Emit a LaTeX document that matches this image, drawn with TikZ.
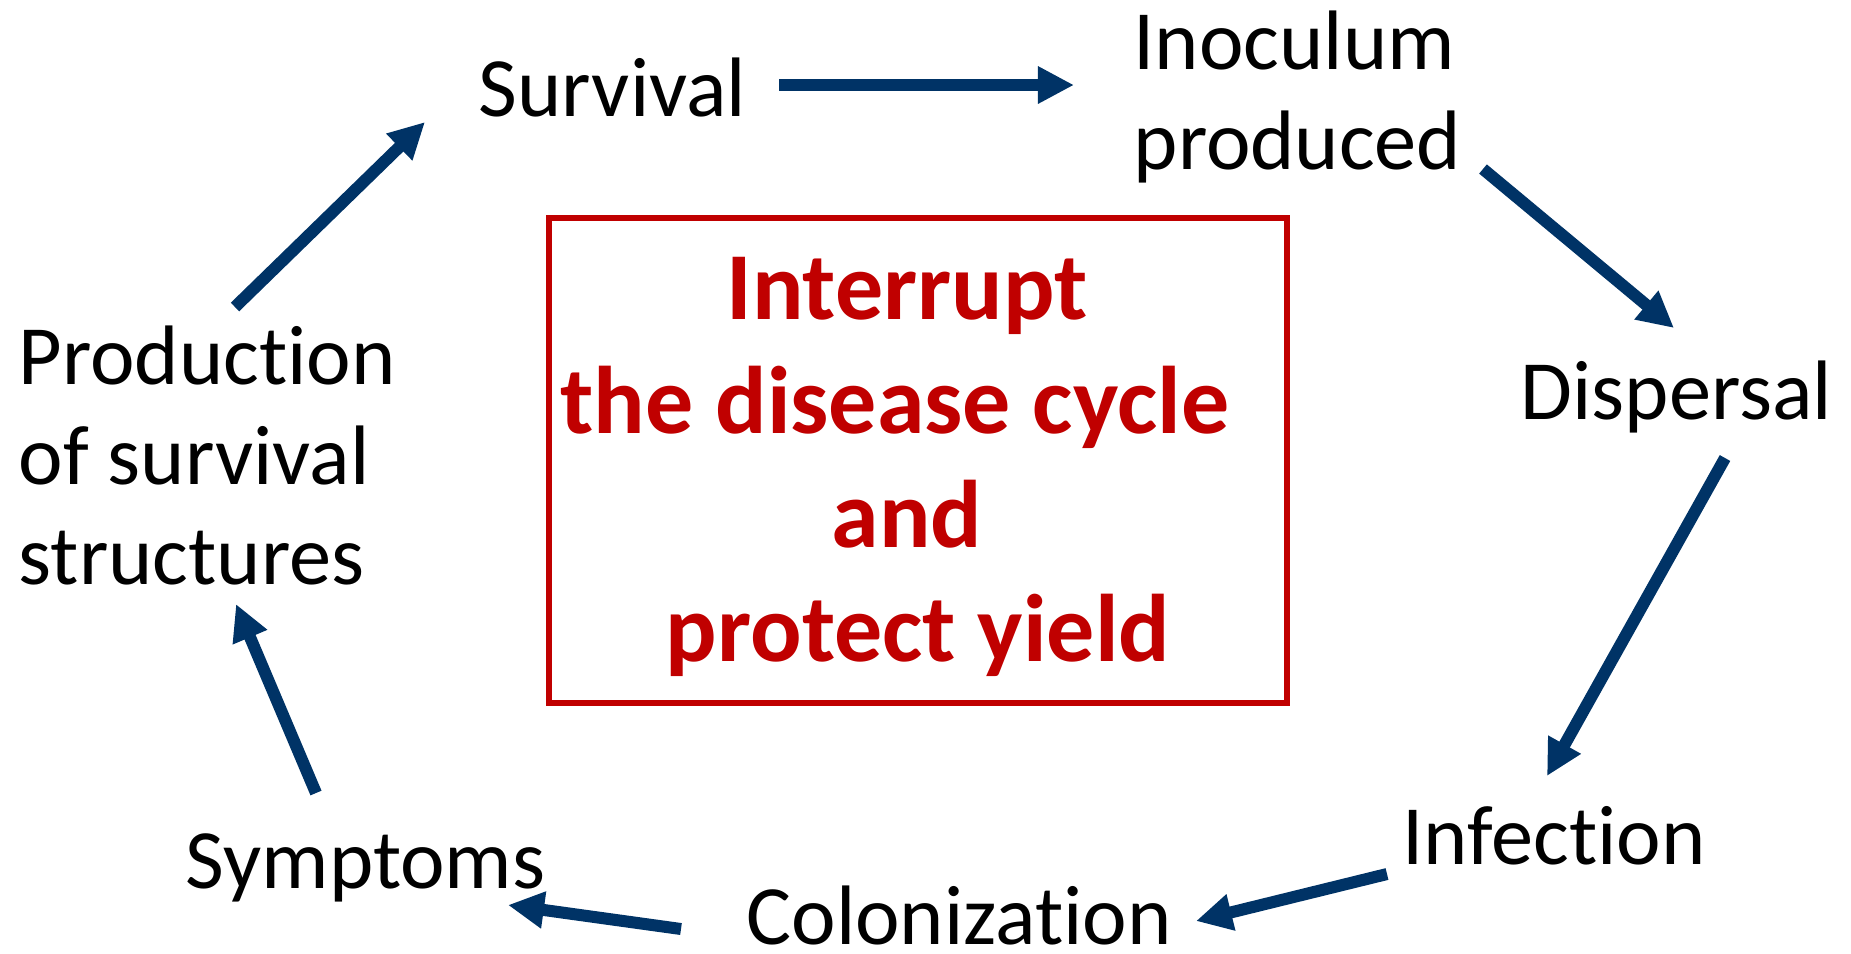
\documentclass[tikz,border=0pt]{standalone}
\usepackage{fontspec}
\setmainfont[Ligatures=NoCommon,RawFeature={-liga}]{Carlito}
\usetikzlibrary{arrows.meta}
\definecolor{cyclenavy}{RGB}{0,51,102}
\definecolor{cyclered}{RGB}{192,0,0}

\begin{document}
\begin{tikzpicture}[x=0.01cm,y=-0.01cm,
	stage/.style={anchor=base west,inner sep=0pt,align=left,
		font=\fontsize{24}{28.4}\selectfont},
	flow/.style={draw=cyclenavy,line width=0.12cm,
		-{Triangle[length=0.36cm,width=0.35cm]}}]
	\useasboundingbox (0,0) rectangle (1851,953);

	% multi-line nodes sit on their last line
	\node[stage] (surv)  at (478,116)  {Survival};
	\node[stage] (inoc)  at (1133,169) {Inoculum\\produced};
	\node[stage] (disp)  at (1520,419) {Dispersal};
	\node[stage] (infec) at (1402,864) {Infection};
	\node[stage] (colon) at (746,944)  {Colonization};
	\node[stage] (symp)  at (185,888)  {Symptoms};
	\node[stage] (prod)  at (18,584)   {Production\\of survival\\structures};

	% centre box
	\draw[cyclered,line width=0.06cm] (549,218) rectangle (1287,703);
	\node[anchor=base,inner sep=0pt,align=center,text=cyclered,
		font=\fontsize{27.3}{32.4}\selectfont\bfseries] (goal) at (907,661)
		{Interrupt\\the disease cycle\makebox[0.25em]{}\\and\\\makebox[0.23em]{}protect yield};

	\draw[flow] ([shift={(217,-277)}]prod.base west) -- ([shift={(-53,6)}]surv.base west);
	\draw[flow] ([shift={(301,-31)}]surv.base west) -- ([shift={(-59,-84)}]inoc.base west);
	\draw[flow] ([shift={(350,0)}]inoc.base west) -- ([shift={(154,-91)}]disp.base west);
	\draw[flow] ([shift={(205,39)}]disp.base west) -- ([shift={(145,-88)}]infec.base west);
	\draw[flow] ([shift={(-15,10)}]infec.base west) -- ([shift={(450,-23)}]colon.base west);
	\draw[flow] ([shift={(-65,-15)}]colon.base west) -- ([shift={(323,17)}]symp.base west);
	\draw[flow] ([shift={(131,-95)}]symp.base west) -- ([shift={(218,20)}]prod.base west);
\end{tikzpicture}
\end{document}
